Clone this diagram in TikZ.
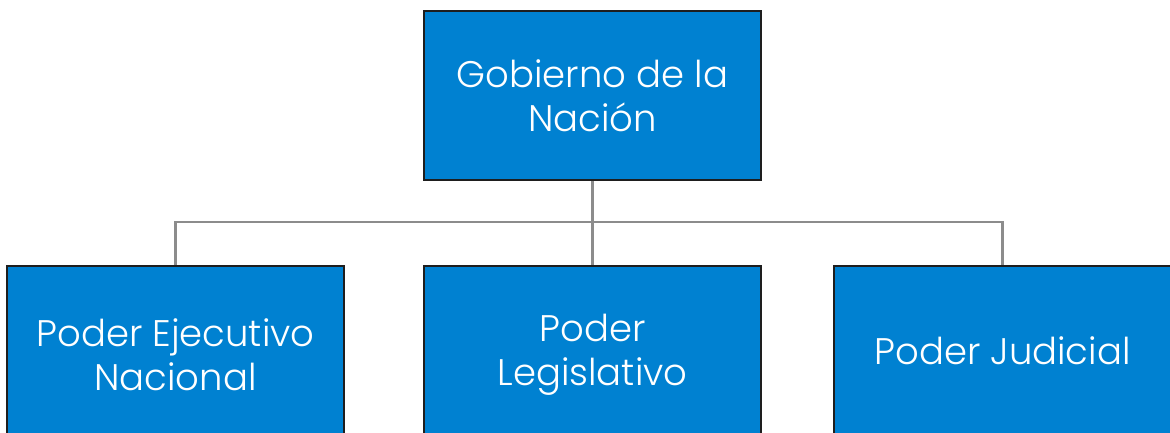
\documentclass[tikz,border=0pt]{standalone}
\usepackage{fontspec}
\setmainfont{Poppins}[UprightFont=* Light]
\definecolor{boxblue}{HTML}{0081D1}
\definecolor{linegray}{HTML}{8C8C8C}
\definecolor{boxedge}{HTML}{1E1E1E}
\tikzset{
  orgbox/.style={draw=boxedge, line width=2pt, fill=boxblue, minimum width=337pt, minimum height=169pt, inner sep=0pt, text=white, align=center, font=\fontsize{37}{44}\selectfont},
  conn/.style={draw=linegray, line width=2.2pt}
}
\begin{document}
\begin{tikzpicture}[x=1pt,y=1pt]
\useasboundingbox (0,0) rectangle (1170,-432);
\clip (0,0) rectangle (1170,-432);
\node[orgbox] (gob) at (592.5,-95.5) {Gobierno de la\\Nación};
\node[orgbox, minimum height=179pt] (pen) at (175.5,-355) {Poder Ejecutivo\\Nacional};
\node[orgbox, minimum height=179pt] (pl) at (592.5,-355) {Poder\\Legislativo};
\node[orgbox, minimum height=171pt] (pj) at (1002.5,-351) {Poder Judicial};
\coordinate (mid) at (592.5,-222);
\draw[conn] (gob.south) -- (mid);
\draw[conn] (pen.north) |- (mid) -| (pj.north);
\draw[conn] (mid) -- (pl.north);
\end{tikzpicture}
\end{document}
